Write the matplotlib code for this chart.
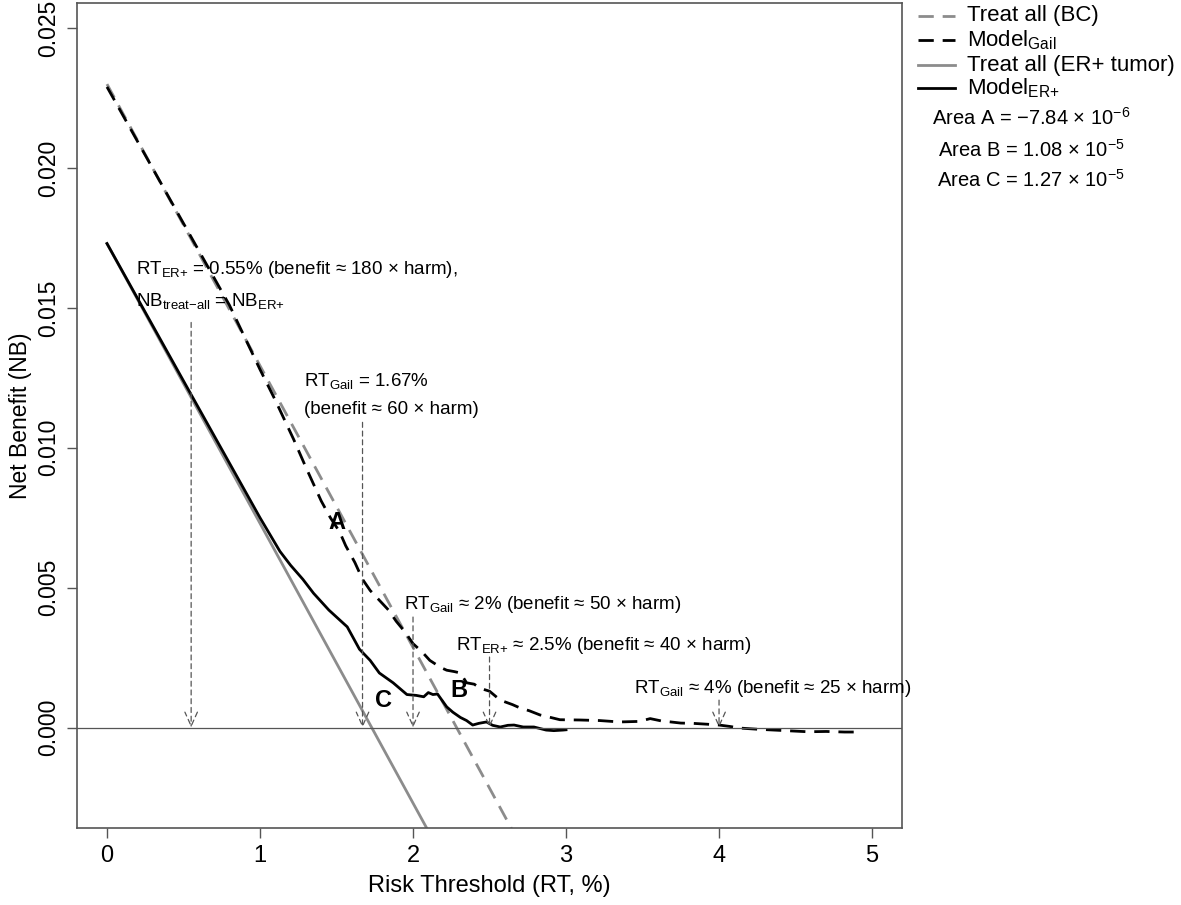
import matplotlib
matplotlib.use('Agg')
import matplotlib.pyplot as plt
from matplotlib.lines import Line2D

# ==== Data (risk threshold in %, net benefit) ====
treat_bc_x = [0.0, 3.0]
treat_bc_y = [0.0230, -0.0072]
treat_er_x = [0.0, 3.0]
treat_er_y = [0.0173, -0.0127]

gail_x = [0.0, 0.42, 0.8, 1.0, 1.1, 1.22, 1.30, 1.35, 1.40, 1.46, 1.52, 1.56, 1.62,
          1.67, 1.72, 1.78, 1.84, 1.89, 1.95, 2.0, 2.06, 2.11, 2.18, 2.22, 2.27,
          2.31, 2.35, 2.40, 2.44, 2.50, 2.57, 2.65, 2.70, 2.76, 2.83, 2.90, 2.96,
          3.09, 3.22, 3.35, 3.48, 3.55, 3.62, 3.75, 3.83, 3.92, 4.0, 4.07, 4.14,
          4.25, 4.36, 4.47, 4.58, 4.70, 4.82, 4.93]
gail_y = [0.0229, 0.0188, 0.0151, 0.0128, 0.0117, 0.0103, 0.0093, 0.0087, 0.0081,
          0.0075, 0.0070, 0.0065, 0.0059, 0.0053, 0.0049, 0.00455, 0.0042, 0.0038,
          0.0034, 0.0030, 0.0027, 0.0024, 0.00215, 0.00205, 0.0020, 0.00195, 0.0016,
          0.00155, 0.0014, 0.0013, 0.00098, 0.00082, 0.0007, 0.0006, 0.00045, 0.00036,
          0.00028, 0.00027, 0.00025, 0.0002, 0.00022, 0.00032, 0.00024, 0.00016,
          0.00015, 0.00012, 0.00009, 0.00004, -0.00002, -0.00006, -0.00009, -0.00012,
          -0.00015, -0.00014, -0.00016, -0.00016]

er_x = [0.0, 0.55, 1.0, 1.13, 1.2, 1.28, 1.35, 1.45, 1.57, 1.65, 1.72, 1.78, 1.87,
        1.96, 2.02, 2.07, 2.10, 2.13, 2.16, 2.22, 2.26, 2.31, 2.35, 2.39, 2.43,
        2.48, 2.52, 2.57, 2.62, 2.66, 2.72, 2.79, 2.87, 2.92, 2.98, 3.0]
er_y = [0.0173, 0.0119, 0.0075, 0.0063, 0.0058, 0.0053, 0.0048, 0.0042, 0.0036,
        0.0028, 0.0024, 0.00195, 0.0016, 0.00118, 0.00115, 0.0011, 0.00125, 0.00118,
        0.0012, 0.00074, 0.00055, 0.00036, 0.00025, 0.00009, 0.00015, 0.0002,
        0.00008, 0.00002, 0.00008, 0.00009, 0.00002, 0.00002, -0.00009, -0.00011,
        -0.00009, -0.00008]

# annotation arrows: x position, top of arrow
arrow_x = [0.55, 1.67, 2.0, 2.5, 4.0]
arrow_top = [0.01448, 0.01091, 0.00395, 0.00252, 0.00098]

area_labels = [r'Area A = $-$7.84 × 10$^{-6}$',
               r'Area B = 1.08 × 10$^{-5}$',
               r'Area C = 1.27 × 10$^{-5}$']

# ==== Fonts ====
base_font = 'Liberation Sans'
plt.rcParams['font.family'] = base_font
plt.rcParams['mathtext.fontset'] = 'custom'
plt.rcParams['mathtext.rm'] = base_font
plt.rcParams['mathtext.it'] = base_font + ':italic'
plt.rcParams['mathtext.bf'] = base_font + ':bold'

fig = plt.figure(figsize=(11.81, 9.05), dpi=100)
ax = fig.add_axes([0.0652, 0.0851, 0.6986, 0.9116])

grey = '#8c8c8c'
ax.plot(treat_bc_x, treat_bc_y, color=grey, lw=2.0, dashes=(5.5, 3.2))
ax.plot(gail_x, gail_y, color='black', lw=2.0, dashes=(5.5, 3.2))
ax.plot(treat_er_x, treat_er_y, color=grey, lw=2.0)
ax.plot(er_x, er_y, color='black', lw=2.0)
ax.axhline(0, color='#555555', lw=0.9)

for xa, yt in zip(arrow_x, arrow_top):
    ax.annotate('', xy=(xa, 0), xytext=(xa, yt),
                arrowprops=dict(arrowstyle='->,head_length=1.0,head_width=0.45',
                                color='#555555', lw=0.9, linestyle=(0, (4, 3)),
                                shrinkA=0, shrinkB=0))

fs = 13.5
er = r'$_{\mathrm{ER}{+}}$'
gail = r'$_{\mathrm{Gail}}$'
ax.text(0.19, 0.01638, 'RT' + er + ' = 0.55% (benefit ≈ 180 × harm),', fontsize=fs, va='center')
ax.text(0.19, 0.01523, r'NB$_{\mathrm{treat{-}all}}$ = NB' + er, fontsize=fs, va='center')
ax.text(1.288, 0.01238, 'RT' + gail + ' = 1.67%', fontsize=fs, va='center')
ax.text(1.288, 0.01138, '(benefit ≈ 60 × harm)', fontsize=fs, va='center')
ax.text(1.941, 0.00441, 'RT' + gail + ' ≈ 2% (benefit ≈ 50 × harm)', fontsize=fs, va='center')
ax.text(2.281, 0.00295, 'RT' + er + ' ≈ 2.5% (benefit ≈ 40 × harm)', fontsize=fs, va='center')
ax.text(3.444, 0.00141, 'RT' + gail + ' ≈ 4% (benefit ≈ 25 × harm)', fontsize=fs, va='center')

ax.text(1.503, 0.00734, 'A', fontsize=17, fontweight='bold', ha='center', va='center')
ax.text(2.30, 0.00134, 'B', fontsize=17, fontweight='bold', ha='center', va='center')
ax.text(1.804, 0.00098, 'C', fontsize=17, fontweight='bold', ha='center', va='center')

ax.set_xlim(-0.196, 5.196)
ax.set_ylim(-0.00359, 0.0259)
ax.set_xticks(range(6))
ax.set_yticks([0, 0.005, 0.010, 0.015, 0.020, 0.025])
ax.set_yticklabels(['0.000', '0.005', '0.010', '0.015', '0.020', '0.025'],
                   rotation=90, va='center', fontsize=16.5)
ax.set_xticklabels([str(i) for i in range(6)], fontsize=17)
ax.tick_params(length=7, width=1, color='#555555', pad=5)
for s in ax.spines.values():
    s.set_color('#555555')
    s.set_linewidth(1.2)
ax.set_xlabel('Risk Threshold (RT, %)', fontsize=17, labelpad=6)
ax.set_ylabel('Net Benefit (NB)', fontsize=16.5, labelpad=4)

# ==== Legend (outside, right) ====
leg_rows = [(grey, (5.5, 3.2), 'Treat all (BC)'),
            ('black', (5.5, 3.2), r'Model$_{\mathrm{Gail}}$'),
            (grey, None, 'Treat all (ER+ tumor)'),
            ('black', None, r'Model$_{\mathrm{ER}{+}}$')]
leg_y = [16, 40, 65, 88]
W, H = 1181, 905
for (c, d, lab), yp in zip(leg_rows, leg_y):
    yf = 1 - yp / H
    ln = Line2D([918 / W, 955 / W], [yf, yf], transform=fig.transFigure, color=c, lw=2.0)
    if d is not None:
        ln.set_dashes(d)
    fig.add_artist(ln)
    fig.text(967 / W, yf, lab, fontsize=16, va='center')

for lab, yp in zip(area_labels, [118, 150, 180]):
    fig.text(1031 / W, 1 - yp / H, lab, fontsize=14.5, va='center', ha='center')

fig.savefig('out.png', dpi=100)
